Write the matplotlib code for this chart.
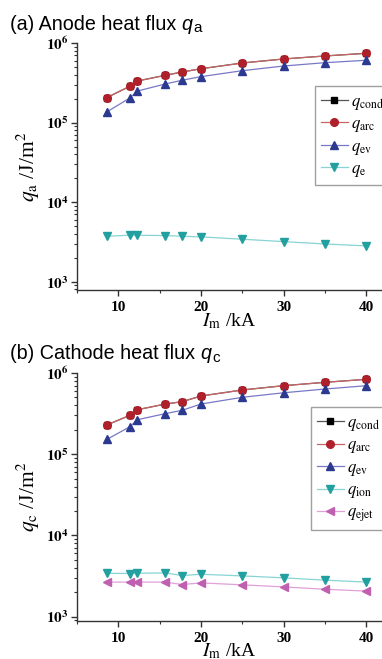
import math

import matplotlib
matplotlib.use("Agg")
import matplotlib.pyplot as plt
from matplotlib.ticker import FixedLocator, MultipleLocator, LogLocator, NullFormatter, FuncFormatter

plt.rcParams["mathtext.fontset"] = "stix"

# 电流 I_m (kA)
current = [8.6, 11.4, 12.3, 15.7, 17.7, 20, 25, 30, 35, 40]

# (a) 阳极热流
anode_cond = [2.06e5, 2.86e5, 3.33e5, 3.93e5, 4.32e5, 4.75e5, 5.61e5, 6.30e5, 6.87e5, 7.43e5]
anode_arc = [2.06e5, 2.86e5, 3.33e5, 3.93e5, 4.32e5, 4.75e5, 5.61e5, 6.30e5, 6.87e5, 7.43e5]
anode_ev = [1.36e5, 2.04e5, 2.49e5, 3.06e5, 3.40e5, 3.78e5, 4.49e5, 5.14e5, 5.66e5, 6.07e5]
anode_e = [3.73e3, 3.84e3, 3.84e3, 3.80e3, 3.73e3, 3.66e3, 3.42e3, 3.19e3, 2.98e3, 2.82e3]

# (b) 阴极热流
cathode_cond = [2.29e5, 3.01e5, 3.53e5, 4.15e5, 4.43e5, 5.21e5, 6.18e5, 6.98e5, 7.68e5, 8.36e5]
cathode_arc = [2.29e5, 3.01e5, 3.53e5, 4.15e5, 4.43e5, 5.21e5, 6.18e5, 6.98e5, 7.68e5, 8.36e5]
cathode_ev = [1.52e5, 2.18e5, 2.66e5, 3.16e5, 3.47e5, 4.15e5, 5.02e5, 5.71e5, 6.35e5, 6.98e5]
cathode_ion = [3.42e3, 3.39e3, 3.42e3, 3.45e3, 3.20e3, 3.32e3, 3.17e3, 3.00e3, 2.81e3, 2.66e3]
cathode_ejet = [2.66e3, 2.66e3, 2.66e3, 2.66e3, 2.48e3, 2.60e3, 2.46e3, 2.32e3, 2.17e3, 2.06e3]

x_ticks = [10, 20, 30, 40]

# 线型: (线颜色, 标记颜色, 标记, 大小)
styles = {
    "cond": ("#555555", "#000000", "s", 3.8),
    "arc": ("#c86464", "#b0202a", "o", 5.5),
    "ev": ("#7878c8", "#2b3990", "^", 5.2),
    "e": ("#88d4d4", "#22a0a0", "v", 5.2),
    "ion": ("#88d4d4", "#22a0a0", "v", 5.2),
    "ejet": ("#e0a0d8", "#c060b0", "<", 5.2),
}

W, H = 382, 659
fig = plt.figure(figsize=(W / 100, H / 100), dpi=100)
renderer = fig.canvas.get_renderer()


def add_title(ypix, prefix, sub):
    # 标题: 正文 + 斜体 q + 下标, 逐段按像素位置拼接
    base = H - ypix
    t1 = fig.text(10 / W, base / H, prefix, fontsize=14.2,
                  family="Liberation Sans", va="baseline", ha="left")
    x1 = t1.get_window_extent(renderer).x1 + 5
    t2 = fig.text(x1 / W, base / H, "q", fontsize=14.2, family="Liberation Sans",
                  style="italic", va="baseline", ha="left")
    x2 = t2.get_window_extent(renderer).x1 + 1.5
    fig.text(x2 / W, (base - 2.5) / H, sub, fontsize=11,
             family="Liberation Sans", va="baseline", ha="left")


def make_panel(top_pix, bottom_pix, ymin, series, ylabel, legend_pos):
    ax = fig.add_axes([77 / W, 1 - bottom_pix / H, 1 - 77 / W, (bottom_pix - top_pix) / H])
    for key, label, vals in series:
        lc, mc, mk, ms = styles[key]
        ax.plot(current, vals, color=lc, lw=0.9, marker=mk, ms=ms,
                mfc=mc, mec=mc, label=label)
    ax.set_yscale("log")
    ax.set_xlim(5, 5 + 305 / 8.27)
    ax.set_ylim(ymin, 1e6)
    ax.spines["top"].set_visible(False)
    ax.spines["right"].set_visible(False)
    for s in ("left", "bottom"):
        ax.spines[s].set_color("#333333")
        ax.spines[s].set_linewidth(1.0)
    ax.xaxis.set_major_locator(FixedLocator(x_ticks))
    ax.xaxis.set_minor_locator(MultipleLocator(5))
    ax.yaxis.set_major_locator(LogLocator(base=10, numticks=10))
    ax.yaxis.set_minor_locator(LogLocator(base=10, subs=range(2, 10), numticks=10))
    ax.yaxis.set_minor_formatter(NullFormatter())
    ax.yaxis.set_major_formatter(FuncFormatter(
        lambda v, p: r"$\mathbf{10^{%d}}$" % round(math.log10(v))))
    ax.tick_params(which="major", direction="out", length=4, width=1,
                   color="#333333", pad=2)
    ax.tick_params(which="minor", direction="out", length=2.2, width=0.8,
                   color="#333333")
    ax.tick_params(axis="x", which="major", pad=4)
    for lab in ax.get_xticklabels():
        lab.set_fontfamily("Liberation Serif")
        lab.set_fontweight("bold")
        lab.set_fontsize(11)
    ax.tick_params(axis="y", labelsize=11)
    ax.set_xlabel(r"$I_{\rm m}$ /kA", family="Liberation Serif", fontsize=14)
    ax.xaxis.set_label_coords(0.5, -0.085)
    ax.set_ylabel(ylabel, family="Liberation Serif", fontsize=15.5)
    ax.yaxis.set_label_coords(-0.115, 0.5)
    leg = ax.legend(loc="upper left", bbox_to_anchor=(legend_pos[0] / W, 1 - legend_pos[1] / H),
                    bbox_transform=fig.transFigure, borderaxespad=0, fontsize=12,
                    frameon=True, fancybox=False, handlelength=1.6,
                    handletextpad=0.2, labelspacing=0.15, borderpad=0.35)
    leg.get_frame().set_edgecolor("#888888")
    leg.get_frame().set_linewidth(1.0)
    return ax


add_title(30, "(a) Anode heat flux", "a")
make_panel(43, 290, 787, [
    ("cond", r"$q_{\rm cond}$", anode_cond),
    ("arc", r"$q_{\rm arc}$", anode_arc),
    ("ev", r"$q_{\rm ev}$", anode_ev),
    ("e", r"$q_{\rm e}$", anode_e),
], r"$q_{\rm a}$ /J/m$^2$", (315, 86))

add_title(359, "(b) Cathode heat flux", "c")
make_panel(373, 620.7, 890, [
    ("cond", r"$q_{\rm cond}$", cathode_cond),
    ("arc", r"$q_{\rm arc}$", cathode_arc),
    ("ev", r"$q_{\rm ev}$", cathode_ev),
    ("ion", r"$q_{\rm ion}$", cathode_ion),
    ("ejet", r"$q_{\rm ejet}$", cathode_ejet),
], r"$q_{\rm c}$ /J/m$^2$", (311, 407))

fig.savefig("out.png", dpi=100)
